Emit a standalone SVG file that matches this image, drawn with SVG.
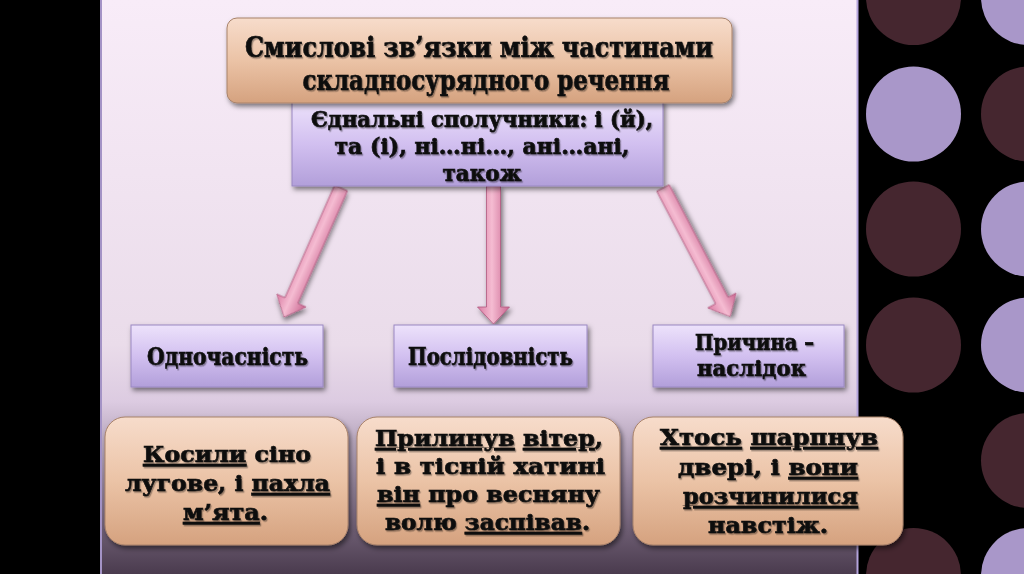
<svg xmlns="http://www.w3.org/2000/svg" width="1024" height="574" viewBox="0 0 1024 574">
<defs>
<linearGradient id="panelG" x1="0" y1="0" x2="0" y2="1">
<stop offset="0" stop-color="#f8ecf8"/>
<stop offset="0.6" stop-color="#eadcea"/>
<stop offset="0.7" stop-color="#dccbe1"/>
<stop offset="0.85" stop-color="#8e7d94"/>
<stop offset="1" stop-color="#4a3b4e"/>
</linearGradient>
<linearGradient id="peachG" x1="0" y1="0" x2="0" y2="1">
<stop offset="0" stop-color="#f7dccb"/>
<stop offset="0.5" stop-color="#ebc3a6"/>
<stop offset="1" stop-color="#d5a27f"/>
</linearGradient>
<linearGradient id="lavG" x1="0" y1="0" x2="0" y2="1">
<stop offset="0" stop-color="#ede2fb"/>
<stop offset="0.5" stop-color="#d2c0f0"/>
<stop offset="1" stop-color="#b29fda"/>
</linearGradient>
<linearGradient id="arrowG" x1="0" y1="0" x2="1" y2="0">
<stop offset="0" stop-color="#d97ba2"/>
<stop offset="0.45" stop-color="#f5bcd2"/>
<stop offset="1" stop-color="#c9658f"/>
</linearGradient>
<filter id="shadow" x="-10%" y="-10%" width="130%" height="140%">
<feDropShadow dx="2" dy="3" stdDeviation="2.5" flood-color="#000" flood-opacity="0.5"/>
</filter>
<filter id="tshadow" x="-5%" y="-20%" width="110%" height="150%">
<feDropShadow dx="1.2" dy="1.5" stdDeviation="0.6" flood-color="#000" flood-opacity="0.35"/>
</filter>
</defs>
<style>
.peach{fill:url(#peachG);stroke:#a8826a;stroke-width:1;filter:url(#shadow)}
.lav{fill:url(#lavG);stroke:#9a88c2;stroke-width:1;filter:url(#shadow)}
.arrow{fill:url(#arrowG);stroke:#b0587f;stroke-width:0.8;filter:url(#shadow)}
.t{font-family:"DejaVu Serif","Liberation Serif",serif;font-weight:bold;fill:#0d0d0d;stroke:#0d0d0d;stroke-width:0.7;text-anchor:middle;filter:url(#tshadow)}
.u{text-decoration:underline}
.dark{fill:#45262f}
.light{fill:#a997c9}
</style>
<rect x="0" y="0" width="1024" height="574" fill="#000"/>
<g id="circles">
<circle class="dark" cx="913.5" cy="-2.5" r="47.5"/>
<circle class="light" cx="913.5" cy="114" r="47.5"/>
<circle class="dark" cx="913.5" cy="229" r="47.5"/>
<circle class="dark" cx="913.5" cy="345" r="47.5"/>
<circle class="dark" cx="913.5" cy="575.5" r="47.5"/>
<circle class="light" cx="1028.5" cy="-2.5" r="47.5"/>
<circle class="dark" cx="1028.5" cy="114" r="47.5"/>
<circle class="light" cx="1028.5" cy="229" r="47.5"/>
<circle class="light" cx="1028.5" cy="345" r="47.5"/>
<circle class="dark" cx="1028.5" cy="460.5" r="47.5"/>
<circle class="light" cx="1028.5" cy="575.5" r="47.5"/>
</g>
<g id="panel">
<rect x="100" y="0" width="758" height="574" fill="url(#panelG)"/>
<line x1="101" y1="0" x2="101" y2="574" stroke="#a493c6" stroke-width="2"/>
<line x1="857.5" y1="0" x2="857.5" y2="574" stroke="#b4a4dc" stroke-width="2"/>
</g>
<g id="connectors">
<polygon class="arrow" transform="translate(341,188) rotate(23.8)" points="-7,0 7,0 7,123 16,123 0,141 -16,123 -7,123"/>
<polygon class="arrow" transform="translate(493.5,186)" points="-7,0 7,0 7,121 16,121 0,138 -16,121 -7,121"/>
<polygon class="arrow" transform="translate(663,188) rotate(-27.6)" points="-7,0 7,0 7,127 16,127 0,145 -16,127 -7,127"/>
</g>
<g id="conj">
<rect class="lav" x="292" y="101" width="371" height="85"/>
<text class="t" font-size="22" x="482" y="127" textLength="342" lengthAdjust="spacingAndGlyphs">Єднальні сполучники: і (й),</text>
<text class="t" font-size="22" x="482" y="154" textLength="295" lengthAdjust="spacingAndGlyphs">та (і), ні…ні…, ані…ані,</text>
<text class="t" font-size="22" x="482" y="181" textLength="79" lengthAdjust="spacingAndGlyphs">також</text>
</g>
<g id="title">
<rect class="peach" x="227" y="18" width="505" height="85" rx="10"/>
<text class="t" font-size="28" x="479" y="57" textLength="468" lengthAdjust="spacingAndGlyphs">Смислові зв’язки між частинами</text>
<text class="t" font-size="28" x="486" y="90" textLength="367" lengthAdjust="spacingAndGlyphs">складносурядного речення</text>
</g>
<g id="simult">
<rect class="lav" x="131" y="325" width="192" height="62"/>
<text class="t" font-size="24" x="227.5" y="365" textLength="161" lengthAdjust="spacingAndGlyphs">Одночасність</text>
</g>
<g id="sequence">
<rect class="lav" x="394" y="325" width="193" height="62"/>
<text class="t" font-size="24" x="490.5" y="365" textLength="165" lengthAdjust="spacingAndGlyphs">Послідовність</text>
</g>
<g id="cause">
<rect class="lav" x="653" y="325" width="191" height="62"/>
<text class="t" font-size="22" x="754.5" y="350" textLength="119" lengthAdjust="spacingAndGlyphs">Причина –</text>
<text class="t" font-size="22" x="751.5" y="376" textLength="109" lengthAdjust="spacingAndGlyphs">наслідок</text>
</g>
<g id="exampleA">
<rect class="peach" x="105" y="417" width="243" height="128" rx="20"/>
<text class="t" font-size="23" x="227" y="462" textLength="168" lengthAdjust="spacingAndGlyphs"><tspan class="u">Косили</tspan> сіно</text>
<text class="t" font-size="23" x="227.5" y="491" textLength="205" lengthAdjust="spacingAndGlyphs">лугове, і <tspan class="u">пахла</tspan></text>
<text class="t" font-size="23" x="225.5" y="520" textLength="85" lengthAdjust="spacingAndGlyphs"><tspan class="u">м’ята</tspan>.</text>
</g>
<g id="exampleB">
<rect class="peach" x="357" y="417" width="263" height="128" rx="20"/>
<text class="t" font-size="23" x="489" y="446" textLength="228" lengthAdjust="spacingAndGlyphs"><tspan class="u">Прилинув</tspan> <tspan class="u">вітер</tspan>,</text>
<text class="t" font-size="23" x="490.5" y="474" textLength="229" lengthAdjust="spacingAndGlyphs">і в тісній хатині</text>
<text class="t" font-size="23" x="488.5" y="502" textLength="223" lengthAdjust="spacingAndGlyphs"><tspan class="u">він</tspan> про весняну</text>
<text class="t" font-size="23" x="487.5" y="530" textLength="205" lengthAdjust="spacingAndGlyphs">волю <tspan class="u">заспівав</tspan>.</text>
</g>
<g id="exampleC">
<rect class="peach" x="633" y="417" width="270" height="128" rx="20"/>
<text class="t" font-size="23" x="769" y="445" textLength="218" lengthAdjust="spacingAndGlyphs"><tspan class="u">Хтось</tspan> <tspan class="u">шарпнув</tspan></text>
<text class="t" font-size="23" x="768" y="475" textLength="180" lengthAdjust="spacingAndGlyphs">двері, і <tspan class="u">вони</tspan></text>
<text class="t" font-size="23" x="770.5" y="504" textLength="175" lengthAdjust="spacingAndGlyphs"><tspan class="u">розчинилися</tspan></text>
<text class="t" font-size="23" x="768" y="533" textLength="120" lengthAdjust="spacingAndGlyphs">навстіж.</text>
</g>
</svg>
